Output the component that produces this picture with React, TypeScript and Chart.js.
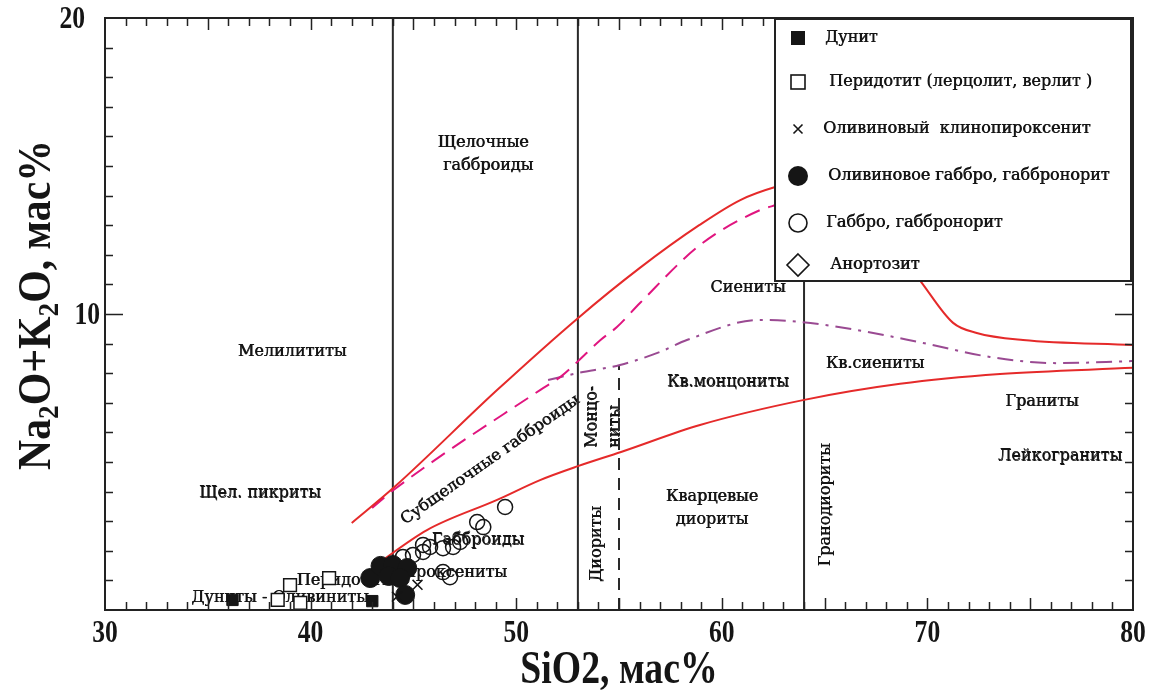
import React, { useEffect, useRef } from 'react';
import { Chart, registerables } from 'chart.js';
Chart.register(...registerables);

// ---------- axis ----------
const xTickLabels = [30, 40, 50, 60, 70, 80];
const yTickLabels = [10, 20];
const xTitle = 'SiO2, мас%';

// ---------- sample data (SiO2, Na2O+K2O) ----------
const duniteSiO2 = [36.2, 43.0];
const duniteAlk = [0.34, 0.3];
const peridotiteSiO2 = [39.0, 38.4, 39.5, 40.9];
const peridotiteAlk = [0.84, 0.34, 0.24, 1.08];
const olClinopyroxeniteSiO2 = [44.2, 45.2];
const olClinopyroxeniteAlk = [0.45, 0.85];
const olGabbroSiO2 = [42.9, 43.4, 44.0, 44.7, 43.8, 44.35, 44.6];
const olGabbroAlk = [1.08, 1.49, 1.52, 1.42, 1.15, 1.08, 0.51];
const gabbroSiO2 = [49.46, 48.1, 48.4, 47.27, 46.93, 46.44, 45.81, 45.47, 44.98, 44.49, 46.78, 46.44, 45.47];
const gabbroAlk = [3.48, 2.97, 2.8, 2.3, 2.13, 2.09, 2.13, 1.96, 1.86, 1.79, 1.11, 1.28, 2.2];
const anorthositeSiO2: number[] = [];
const anorthositeAlk: number[] = [];

// ---------- classification boundaries ----------
const upperRedSiO2 = [42.0, 44.1, 49.07, 53.0, 56.0, 58.9, 60.9, 62.6, 64.0, 67.0, 69.7, 71.25, 72.4, 74.65, 80];
const upperRedAlk = [2.94, 4.17, 7.43, 9.86, 11.55, 13.0, 13.85, 14.29, 14.5, 13.6, 11.08, 9.7, 9.36, 9.12, 8.95];
const lowerRedSiO2 = [43.03, 45.66, 49.07, 51.16, 53.0, 55.1, 58.94, 63.95, 68.67, 73.53, 80];
const lowerRedAlk = [1.45, 2.7, 3.72, 4.39, 4.86, 5.34, 6.25, 7.09, 7.64, 7.97, 8.18];
const magentaSiO2 = [42.99, 44.1, 51.16, 52.2, 53.0, 54.1, 54.9, 56.02, 58.94, 61.86, 62.64, 63.5];
const magentaAlk = [3.45, 4.09, 7.43, 7.9, 8.4, 9.12, 9.56, 10.37, 12.33, 13.51, 13.68, 13.85];
const purpleSiO2 = [51.55, 52.96, 55.05, 57.0, 58.3, 61.86, 63.8, 66.58, 69.79, 73.04, 76.3, 80];
const purpleAlk = [7.77, 8.0, 8.28, 8.72, 9.12, 9.8, 9.73, 9.46, 9.02, 8.55, 8.34, 8.41];
const verticalSiO2 = [44, 53, 55, 64];
const verticalTop = [20, 20, 8.25, 20];
const verticalDashed = [false, false, true, false];

// ---------- field names ----------
const fieldNames = [
  'Щелочные', 'габброиды', 'Мелилититы', 'Щел. пикриты', 'Дуниты - Оливиниты', 'Перидотиты',
  'Габброиды', 'Пироксениты', 'Субщелочные габброиды', 'Сиениты', 'Кв.монцониты', 'Кв.сиениты',
  'Граниты', 'Лейкограниты', 'Кварцевые', 'диориты', 'Монцо-', 'ниты', 'Диориты', 'Гранодиориты',
];
const fieldSiO2 = [48.39, 48.63, 39.1, 37.54, 38.51, 41.87, 48.14, 49.55, 48.73, 61.27, 60.3, 67.45, 75.57, 76.45, 59.52, 59.52, 53.69, 54.81, 53.93, 65.07];
const fieldAlk = [15.78, 15.0, 8.72, 3.95, 0.41, 0.98, 2.36, 1.25, 5.07, 10.88, 7.7, 8.31, 7.03, 5.2, 3.82, 3.04, 5.47, 5.47, 2.23, 3.55];
const fieldRot = [0, 0, 0, 0, 0, 0, 0, 0, -35, 0, 0, 0, 0, 0, 0, 0, -90, -90, -90, -90];
const fieldAlign: CanvasTextAlign[] = ['center', 'center', 'center', 'center', 'center', 'center', 'center', 'right', 'center', 'center', 'center', 'center', 'center', 'center', 'center', 'center', 'left', 'left', 'center', 'center'];

// ---------- legend ----------
const legendLabels = [
  'Дунит',
  'Перидотит (лерцолит, верлит )',
  'Оливиновый  клинопироксенит',
  'Оливиновое габбро, габбронорит',
  'Габбро, габбронорит',
  'Анортозит',
];

const SERIF = '"DejaVu Serif", "Liberation Serif", serif';
const BOLD = '"Liberation Serif", "Times New Roman", serif';
const INK = '#151515';

const pts = (xs: number[], ys: number[]) => xs.map((x, i) => ({ x, y: ys[i] }));

const curve = (label: string, xs: number[], ys: number[], color: string, dash: number[]) => ({
  type: 'line' as const,
  label,
  data: pts(xs, ys),
  borderColor: color,
  borderWidth: 2,
  borderDash: dash,
  pointRadius: 0,
  fill: false,
  cubicInterpolationMode: 'monotone' as const,
  showLine: true,
  order: 20,
});

function drawMarker(ctx: CanvasRenderingContext2D, kind: number, cx: number, cy: number) {
  ctx.save();
  ctx.lineWidth = 1.6;
  ctx.strokeStyle = INK;
  ctx.fillStyle = INK;
  ctx.beginPath();
  if (kind === 0) { ctx.fillRect(cx - 7, cy - 7, 14, 14); }
  else if (kind === 1) { ctx.fillStyle = '#fff'; ctx.fillRect(cx - 7, cy - 7, 14, 14); ctx.strokeRect(cx - 7, cy - 7, 14, 14); }
  else if (kind === 2) { ctx.moveTo(cx - 4.5, cy - 4.5); ctx.lineTo(cx + 4.5, cy + 4.5); ctx.moveTo(cx + 4.5, cy - 4.5); ctx.lineTo(cx - 4.5, cy + 4.5); ctx.stroke(); }
  else if (kind === 3) { ctx.arc(cx, cy, 10, 0, Math.PI * 2); ctx.fill(); }
  else if (kind === 4) { ctx.arc(cx, cy, 9, 0, Math.PI * 2); ctx.stroke(); }
  else { ctx.moveTo(cx, cy - 11); ctx.lineTo(cx + 11, cy); ctx.lineTo(cx, cy + 11); ctx.lineTo(cx - 11, cy); ctx.closePath(); ctx.fillStyle = '#fff'; ctx.fill(); ctx.stroke(); }
  ctx.restore();
}

function condensed(ctx: CanvasRenderingContext2D, text: string, x: number, y: number, sx: number, align: CanvasTextAlign) {
  ctx.save();
  ctx.translate(x, y);
  ctx.scale(sx, 1);
  ctx.textAlign = align;
  ctx.textBaseline = 'middle';
  ctx.fillText(text, 0, 0);
  ctx.restore();
}

// slightly doubled glyphs, like the printed original
function heavyText(ctx: CanvasRenderingContext2D, text: string, x: number, y: number) {
  ctx.fillText(text, x, y);
  ctx.fillText(text, x + 0.6, y + 0.3);
}

const overlay = {
  id: 'overlay',
  beforeDatasetsDraw(chart: any) {
    const { ctx, scales: { x, y } } = chart;
    ctx.save();
    ctx.fillStyle = INK;
    ctx.font = `16px ${SERIF}`;
    ctx.textBaseline = 'middle';
    fieldNames.forEach((t, i) => {
      ctx.save();
      ctx.translate(x.getPixelForValue(fieldSiO2[i]), y.getPixelForValue(fieldAlk[i]));
      ctx.rotate((fieldRot[i] * Math.PI) / 180);
      ctx.textAlign = fieldAlign[i];
      heavyText(ctx, t, 0, 0);
      ctx.restore();
    });
    ctx.restore();
  },
  afterDraw(chart: any) {
    const { ctx, chartArea: a, scales: { x, y } } = chart;
    ctx.save();
    // inward ticks
    ctx.strokeStyle = '#222';
    ctx.lineWidth = 1.5;
    ctx.beginPath();
    for (let v = 31; v < 80; v++) {
      const px = Math.round(x.getPixelForValue(v)) + 0.5;
      const len = v % 5 === 0 ? 12 : 8;
      ctx.moveTo(px, a.bottom); ctx.lineTo(px, a.bottom - len);
      ctx.moveTo(px, a.top); ctx.lineTo(px, a.top + len);
    }
    for (let v = 1; v < 20; v++) {
      const py = Math.round(y.getPixelForValue(v)) + 0.5;
      const len = v === 10 ? 18 : 8;
      ctx.moveTo(a.left, py); ctx.lineTo(a.left + len, py);
      ctx.moveTo(a.right, py); ctx.lineTo(a.right - len, py);
    }
    ctx.stroke();
    ctx.lineWidth = 2;
    ctx.strokeRect(a.left, a.top, a.right - a.left, a.bottom - a.top);

    // tick labels
    ctx.fillStyle = INK;
    ctx.font = `bold 32px ${BOLD}`;
    xTickLabels.forEach((v) => condensed(ctx, String(v), x.getPixelForValue(v), a.bottom + 24, 0.8, 'center'));
    yTickLabels.forEach((v) => condensed(ctx, String(v), a.left - (v === 20 ? 20 : 5), y.getPixelForValue(v) + 2, 0.8, 'right'));

    // x title
    ctx.font = `bold 46px ${BOLD}`;
    condensed(ctx, xTitle, (a.left + a.right) / 2, 671, 0.82, 'center');

    // y title with subscripts
    const segs: [string, boolean][] = [['Na', false], ['2', true], ['O+K', false], ['2', true], ['O, мас%', false]];
    const big = `bold 46px ${BOLD}`;
    const small = `bold 30px ${BOLD}`;
    let total = 0;
    const widths = segs.map(([t, sub]) => { ctx.font = sub ? small : big; const w = ctx.measureText(t).width; total += w; return w; });
    const sx = 330 / total;
    ctx.save();
    ctx.translate(38, 305);
    ctx.rotate(-Math.PI / 2);
    ctx.scale(sx, 1);
    ctx.textBaseline = 'middle';
    ctx.textAlign = 'left';
    let cx = -total / 2;
    segs.forEach(([t, sub], i) => {
      ctx.font = sub ? small : big;
      ctx.fillText(t, cx, sub ? 12 : 0);
      cx += widths[i];
    });
    ctx.restore();

    // legend box
    const L = 775, T = 19, R = 1131, B = 281;
    ctx.fillStyle = '#fff';
    ctx.fillRect(L, T, R - L, B - T);
    ctx.strokeStyle = '#222';
    ctx.lineWidth = 2;
    ctx.strokeRect(L, T, R - L, B - T);
    const rowsY = [38, 82, 129, 176, 223, 265];
    const textX = [825, 829, 823, 828, 826, 830];
    ctx.font = `16px ${SERIF}`;
    ctx.textBaseline = 'middle';
    ctx.textAlign = 'left';
    legendLabels.forEach((t, i) => {
      drawMarker(ctx, i, 798, rowsY[i]);
      ctx.fillStyle = INK;
      heavyText(ctx, t, textX[i], rowsY[i]);
    });
    ctx.restore();
  },
};

export default function App() {
  const ref = useRef<HTMLCanvasElement>(null);
  useEffect(() => {
    document.body.style.margin = '0';
    const verticals = verticalSiO2.map((v, i) => ({
      type: 'line' as const,
      label: `b${v}`,
      data: [{ x: v, y: 0 }, { x: v, y: verticalTop[i] }],
      borderColor: '#2a2a2a',
      borderWidth: 2,
      borderDash: verticalDashed[i] ? [12, 8] : [],
      pointRadius: 0,
      fill: false,
      showLine: true,
      order: 25,
    }));
    const chart = new Chart(ref.current as HTMLCanvasElement, {
      type: 'scatter',
      data: {
        datasets: [
          ...verticals,
          curve('upper', upperRedSiO2, upperRedAlk, '#e52a2a', []),
          curve('lower', lowerRedSiO2, lowerRedAlk, '#e52a2a', []),
          curve('subalk', magentaSiO2, magentaAlk, '#e0157f', [16, 9]),
          curve('qz', purpleSiO2, purpleAlk, '#9a4a92', [16, 7, 3, 7]),
          { label: legendLabels[4], data: pts(gabbroSiO2, gabbroAlk), pointStyle: 'circle', pointRadius: 7.5, backgroundColor: 'rgba(0,0,0,0)', borderColor: INK, borderWidth: 1.5, order: 5 },
          { label: legendLabels[1], data: pts(peridotiteSiO2, peridotiteAlk), pointStyle: 'rect', pointRadius: 9, backgroundColor: '#fff', borderColor: INK, borderWidth: 1.5, order: 4 },
          { label: legendLabels[3], data: pts(olGabbroSiO2, olGabbroAlk), pointStyle: 'circle', pointRadius: 9.5, backgroundColor: INK, borderColor: INK, borderWidth: 1, order: 3 },
          { label: legendLabels[0], data: pts(duniteSiO2, duniteAlk), pointStyle: 'rect', pointRadius: 8, backgroundColor: INK, borderColor: INK, borderWidth: 1, order: 2 },
          { label: legendLabels[2], data: pts(olClinopyroxeniteSiO2, olClinopyroxeniteAlk), pointStyle: 'crossRot', pointRadius: 7, borderColor: INK, borderWidth: 1.5, order: 1 },
          { label: legendLabels[5], data: pts(anorthositeSiO2, anorthositeAlk), pointStyle: 'rectRot', pointRadius: 9, backgroundColor: '#fff', borderColor: INK, borderWidth: 1.5, order: 0 },
        ] as any,
      },
      options: {
        responsive: false,
        animation: false,
        devicePixelRatio: 1,
        layout: { padding: { left: 105, right: 27, top: 18, bottom: 85 } },
        plugins: { legend: { display: false }, tooltip: { enabled: false } },
        scales: {
          x: { type: 'linear', min: 30, max: 80, display: false },
          y: { type: 'linear', min: 0, max: 20, display: false },
        },
      },
      plugins: [overlay],
    });
    return () => chart.destroy();
  }, []);
  return (
    <div style={{ width: 1160, height: 695, background: '#fff' }}>
      <canvas ref={ref} width={1160} height={695} style={{ display: 'block' }} />
    </div>
  );
}
